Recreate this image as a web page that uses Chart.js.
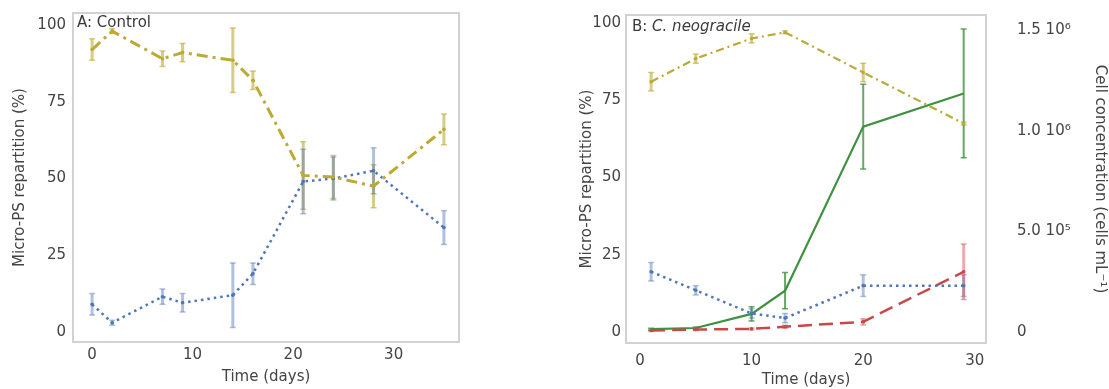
<!DOCTYPE html>
<html>
<head>
<meta charset="utf-8">
<script src="https://cdn.jsdelivr.net/npm/chart.js@4.4.1/dist/chart.umd.min.js"></script>
<style>
  body { margin: 0; background: #fff; width: 1109px; height: 389px; position: relative; overflow: hidden; }
  canvas { position: absolute; top: 0; }
  #chartA { left: 0; }
  #chartB { left: 560px; }
</style>
</head>
<body>
<canvas id="chartA" width="470" height="389"></canvas>
<canvas id="chartB" width="549" height="389"></canvas>
<script>
// Panel A: control
const ctrlDays = [0, 2, 7, 9, 14, 16, 21, 24, 28, 35];
const ctrlDashDot = [92, 98, 89, 91, 88.5, 82, 51, 50.5, 47.5, 66];
const ctrlDashDotErr = [3.5, 0.8, 2.5, 3, 10.5, 3, 11, 7, 7, 5];
const ctrlDotted = [9, 3, 11.5, 9.5, 12, 19, 49, 50, 52.5, 34];
const ctrlDottedErr = [3.5, 0.8, 2.5, 3, 10.5, 3.5, 10.5, 7, 7.5, 5.5];

// Panel B: C. neogracile
const algaDays = [1, 5, 10, 13, 20, 29];
const algaDashDot = [81, 88.5, 95, 97, 84, 67.5];
const algaDashDotErr = [3, 1.5, 1.5, 0.5, 3, 0.5];
const algaDotted = [19.5, 13.5, 6, 4.5, 15, 15];
const algaDottedErr = [3, 1.5, 1.5, 1.5, 3.5, 3.5];
const algaDashed = [0.5, 0.8, 1, 1.7, 3.3, 19.5];
const algaDashedErr = [0.3, 0.3, 0.3, 0.5, 1, 9];
const algaCells = [14000, 20000, 90000, 205000, 1020000, 1185000];
const algaCellsErr = [5000, 5000, 35000, 90000, 210000, 320000];

const percentTicks = [0, 25, 50, 75, 100];
const dayTicks = [0, 10, 20, 30];
const cellTicks = [0, 500000, 1000000, 1500000];
const cellTickLabels = ['0', '5.0 10\u2075', '1.0 10\u2076', '1.5 10\u2076'];

const FONT = 'DejaVu Sans';
const YELLOW = '#bcaa35';
const BLUE = '#4f76b8';
const GREEN = '#3f9140';
const RED = '#c84848';

function toPoints(days, values){
    return days.map((d, i) => ({x: d, y: values[i]}));
}

function withAlpha(hex, a){
    const n = parseInt(hex.slice(1), 16);
    return `rgba(${n >> 16}, ${(n >> 8) & 255}, ${n & 255}, ${a})`;
}

const errorBarPlugin = {
    id: 'errorBars',
    beforeDatasetsDraw(chart){
        const ctx = chart.ctx;
        const area = chart.chartArea;
        ctx.save();
        ctx.beginPath();
        ctx.rect(area.left, area.top, area.right - area.left, area.bottom - area.top);
        ctx.clip();
        for(const ds of chart.data.datasets){
            if(!ds.errors) continue;
            const xs = chart.scales.x;
            const ys = chart.scales[ds.yAxisID || 'y'];
            ctx.strokeStyle = withAlpha(ds.borderColor, ds.errorAlpha);
            ds.data.forEach((p, i) => {
                const e = ds.errors[i];
                const px = xs.getPixelForValue(p.x);
                const top = ys.getPixelForValue(p.y + e);
                const bot = ys.getPixelForValue(p.y - e);
                ctx.lineWidth = ds.errorWidth;
                ctx.beginPath();
                ctx.moveTo(px, top);
                ctx.lineTo(px, bot);
                ctx.stroke();
                ctx.lineWidth = 1.5;
                ctx.beginPath();
                ctx.moveTo(px - 3, top);
                ctx.lineTo(px + 3, top);
                ctx.moveTo(px - 3, bot);
                ctx.lineTo(px + 3, bot);
                ctx.stroke();
            });
        }
        ctx.restore();
    }
};

// grey box round the plot + the panel label in its corner
const framePlugin = {
    id: 'frame',
    afterDraw(chart, args, opts){
        const ctx = chart.ctx;
        const a = chart.chartArea;
        ctx.save();
        ctx.strokeStyle = '#d2d2d2';
        ctx.lineWidth = 2;
        ctx.strokeRect(a.left, a.top, a.right - a.left, a.bottom - a.top);
        let x = a.left + opts.dx;
        ctx.fillStyle = '#3a3a3a';
        ctx.textBaseline = 'middle';
        for(const part of opts.label){
            ctx.font = `${part.italic ? 'italic ' : ''}15px "${FONT}"`;
            ctx.fillText(part.text, x, a.top + opts.dy);
            x += ctx.measureText(part.text).width;
        }
        ctx.restore();
    }
};

function tickFont(){
    return {family: FONT, size: 15};
}

function fixedWidth(w){
    return function(scale){ scale.width = w; };
}

function fixedHeight(h){
    return function(scale){ scale.height = h; };
}

function setTicks(values){
    return function(scale){ scale.ticks = values.map(v => ({value: v})); };
}

// tickLength is only used as the gap between frame and labels (grid is hidden)
function hiddenGrid(gap){
    return {display: false, drawTicks: gap > 0, tickLength: gap};
}

function xScale(min, max, height, tickPad, titlePad){
    return {
        type: 'linear', min: min, max: max,
        grid: hiddenGrid(0), border: {display: false},
        afterBuildTicks: setTicks(dayTicks),
        afterFit: fixedHeight(height),
        ticks: {font: tickFont(), color: '#444', padding: tickPad, maxRotation: 0},
        title: {display: true, text: 'Time (days)', font: tickFont(), color: '#444', padding: {top: 0, bottom: titlePad}}
    };
}

function percentScale(min, max, width, gap, titlePad){
    return {
        type: 'linear', position: 'left', min: min, max: max,
        grid: hiddenGrid(gap), border: {display: false},
        afterBuildTicks: setTicks(percentTicks),
        afterFit: fixedWidth(width),
        ticks: {font: tickFont(), color: '#444', padding: 0},
        title: {display: true, text: 'Micro-PS repartition (%)', font: tickFont(), color: '#444', padding: {top: titlePad, bottom: 0}}
    };
}

function lineSet(days, values, errs, color, dash, width, axis){
    return {
        data: toPoints(days, values),
        errors: errs,
        errorAlpha: 0.45,
        errorWidth: 3,
        yAxisID: axis || 'y',
        borderColor: color,
        backgroundColor: color,
        borderWidth: width,
        borderDash: dash,
        pointRadius: 1.8,
        pointBorderWidth: 0,
        fill: false,
        tension: 0
    };
}

function renderControl(){
    const ctx = document.getElementById('chartA').getContext('2d');
    const free = lineSet(ctrlDays, ctrlDashDot, ctrlDashDotErr, YELLOW, [11, 5, 3, 5], 3);
    free.errorAlpha = 0.6;
    new Chart(ctx, {
        type: 'line',
        data: {
            datasets: [
                free,
                lineSet(ctrlDays, ctrlDotted, ctrlDottedErr, BLUE, [2.5, 4], 2.5)
            ]
        },
        options: {
            responsive: false,
            animation: false,
            layout: {padding: {top: 13, right: 11, left: 0, bottom: 0}},
            plugins: {
                legend: {display: false},
                tooltip: {enabled: false},
                frame: {label: [{text: 'A: Control'}], dx: 4, dy: 10}
            },
            scales: {
                x: xScale(-1.9, 36.5, 47, 4, 3),
                y: percentScale(-3.26, 103.9, 73, 7, 11)
            }
        },
        plugins: [errorBarPlugin, framePlugin]
    });
}

function renderAlga(){
    const ctx = document.getElementById('chartB').getContext('2d');
    const free = lineSet(algaDays, algaDashDot, algaDashDotErr, YELLOW, [8, 4, 2, 4], 2.2);
    free.errorAlpha = 0.6;
    const cells = lineSet(algaDays, algaCells, algaCellsErr, GREEN, [], 2.2, 'y2');
    cells.errorAlpha = 0.8;
    cells.errorWidth = 2;
    cells.pointRadius = 0;
    new Chart(ctx, {
        type: 'line',
        data: {
            datasets: [
                free,
                lineSet(algaDays, algaDotted, algaDottedErr, BLUE, [2.5, 4], 2.5),
                lineSet(algaDays, algaDashed, algaDashedErr, RED, [14, 7], 2.5),
                cells
            ]
        },
        options: {
            responsive: false,
            animation: false,
            layout: {padding: {top: 15, right: 0, left: 0, bottom: 0}},
            plugins: {
                legend: {display: false},
                tooltip: {enabled: false},
                frame: {label: [{text: 'B: '}, {text: 'C. neogracile', italic: true}], dx: 6, dy: 12}
            },
            scales: {
                x: xScale(-1.25, 31, 46, 9, 0),
                y: percentScale(-3.56, 102.6, 66, 5, 18),
                y2: {
                    type: 'linear', position: 'right', min: -54600, max: 1574500,
                    grid: hiddenGrid(31), border: {display: false},
                    afterBuildTicks: setTicks(cellTicks),
                    afterFit: fixedWidth(123),
                    ticks: {
                        font: tickFont(), color: '#444', padding: 0,
                        callback: (v) => cellTickLabels[cellTicks.indexOf(v)]
                    },
                    title: {display: true, text: 'Cell concentration (cells mL\u207B\u00B9)', font: tickFont(), color: '#444', padding: {top: 0, bottom: 0}}
                }
            }
        },
        plugins: [errorBarPlugin, framePlugin]
    });
}

document.addEventListener('DOMContentLoaded', function () {
    renderControl();
    renderAlga();
});
</script>
</body>
</html>
